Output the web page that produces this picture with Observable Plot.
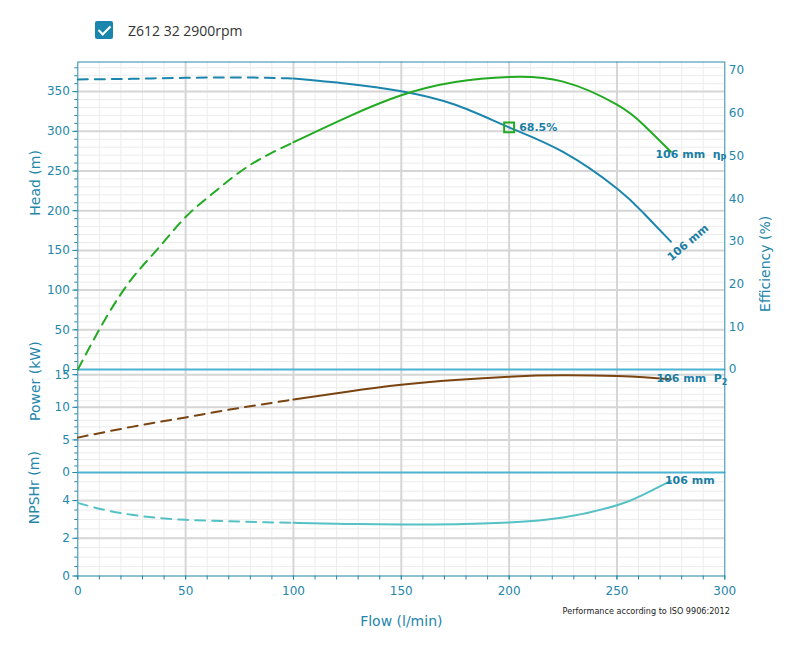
<!DOCTYPE html>
<html><head><meta charset="utf-8">
<script src="https://cdn.jsdelivr.net/npm/d3@7"></script>
<script src="https://cdn.jsdelivr.net/npm/@observablehq/plot@0.6"></script>
<style>
html,body{margin:0;padding:0;background:#fff;}
#wrap{position:relative;width:796px;height:647px;overflow:hidden;background:#fff;}
#wrap svg{position:absolute;left:0;top:0;}
#legend{position:absolute;left:95px;top:21px;height:18px;display:flex;align-items:center;font-family:"Open Sans",sans-serif;font-size:14px;color:#333;z-index:5;}
.cb{display:inline-block;width:18px;height:18px;border-radius:2px;background:#1a86ad;position:relative;margin-right:15px;}
.cb::after{content:"";position:absolute;left:6px;top:2px;width:5px;height:10px;border:solid #fff;border-width:0 2px 2px 0;transform:rotate(45deg);}
</style></head>
<body><div id="wrap"><div id="legend"><span class="cb"></span><span>Z612 32 2900rpm</span></div></div>
<script>
// ---- data ----
const seriesName = "Z612 32 2900rpm";
const impeller = "106 mm";
const flow       = [0, 12.5, 25, 37.5, 50, 62.5, 75, 87.5, 100, 125, 150, 175, 200, 225, 250, 262.5, 275];
const head       = [365.3, 365.7, 366.1, 366.8, 367.4, 367.7, 367.8, 367.4, 366.5, 360, 350.5, 333.5, 305, 274, 228, 196.5, 161];
const efficiency = [0, 11.6, 21.2, 28.5, 35.7, 41.2, 46.2, 50.1, 53.2, 59.1, 64.2, 67.3, 68.5, 67.4, 62, 57.2, 51];
const power      = [5.35, 6.2, 7.0, 7.75, 8.45, 9.2, 9.9, 10.55, 11.2, 12.4, 13.45, 14.2, 14.7, 14.9, 14.8, 14.6, 14.3];
const npsh       = [3.88, 3.5, 3.25, 3.08, 2.98, 2.93, 2.89, 2.85, 2.82, 2.76, 2.73, 2.75, 2.84, 3.1, 3.75, 4.33, 5.05];
const bepFlow = [200], bepHead = [305], bepEff = [68.5];
const flowTicks = [0, 50, 100, 150, 200, 250, 300];
const headTicks = [0, 50, 100, 150, 200, 250, 300, 350];
const effTicks = [0, 10, 20, 30, 40, 50, 60, 70];
const powerTicks = [0, 5, 10, 15];
const npshTicks = [0, 2, 4];
const caption = "Performance according to ISO 9906:2012";

// ---- style ----
const W = 796, H = 647, ML = 77.3, MR = 71.7;
const axisColor = "#2386ab", frameColor = "#2a8bb0", sepColor = "#4db3d2", labelColor = "#1b7ea5";
const headColor = "#1b86ad", effColor = "#22aa22", powerColor = "#7a4410", npshColor = "#56c1c4";
const gridMajor = "#d6d6d6", gridMinor = "#ececec";
const dash = "10,7";
const font = "DejaVu Sans, Verdana, sans-serif";

const idx = flow.map((_, i) => i);
const dashedIdx = idx.filter(i => flow[i] <= 100);
const solidIdx = idx.filter(i => flow[i] >= 100);
const last = [flow.length - 1];

function splitLine(vals, color) {
  return [
    Plot.line(dashedIdx, {x: i => flow[i], y: i => vals[i], stroke: color, strokeWidth: 2, strokeDasharray: dash, curve: "natural"}),
    Plot.line(solidIdx, {x: i => flow[i], y: i => vals[i], stroke: color, strokeWidth: 2, curve: "natural"})
  ];
}
function grids(yMajor, yMinor) {
  return [
    Plot.gridX(d3.range(10, 300, 10), {stroke: gridMinor, strokeOpacity: 1, strokeWidth: 1}),
    Plot.gridY(yMinor, {stroke: gridMinor, strokeOpacity: 1, strokeWidth: 1}),
    Plot.gridX(flowTicks.filter(v => v > 0 && v < 300), {stroke: gridMajor, strokeOpacity: 1, strokeWidth: 2}),
    Plot.gridY(yMajor.filter(v => v > 0), {stroke: gridMajor, strokeOpacity: 1, strokeWidth: 2})
  ];
}
function leftAxis(major, minor) {
  return [
    Plot.axisY(minor, {anchor: "left", tickSize: 3, stroke: axisColor, fill: "none", label: null}),
    Plot.axisY(major, {anchor: "left", tickSize: 5, tickPadding: 3, color: axisColor, label: null, fontSize: 12})
  ];
}
function title(t, opts) {
  return Plot.text([t], {text: d => d, fontSize: 14, fill: axisColor, ...opts});
}
const boldLabel = {fontSize: 11, fontWeight: "bold", fill: labelColor, textAnchor: "start"};
const baseStyle = {background: "transparent", fontFamily: font, fontSize: "12px", color: axisColor, overflow: "visible"};

function addSub(svg, full, base, sub) {
  svg.querySelectorAll("text").forEach(t => {
    if (t.textContent === full) {
      t.textContent = base;
      const ts = document.createElementNS("http://www.w3.org/2000/svg", "tspan");
      ts.setAttribute("font-size", "8");
      ts.setAttribute("dy", "3");
      ts.textContent = sub;
      t.appendChild(ts);
    }
  });
}

// ---- NPSH panel ----
const npshMinor = d3.range(0, 5.5, 0.5);
const npshPlot = Plot.plot({
  width: W, height: H, marginLeft: ML, marginRight: MR, marginTop: 472, marginBottom: H - 575.5,
  style: baseStyle,
  x: {domain: [0, 300]},
  y: {domain: [0, 5.49]},
  marks: [
    ...grids(npshTicks, npshMinor),
    Plot.frame({stroke: frameColor}),
    ...leftAxis(npshTicks, npshMinor),
    Plot.axisX(d3.range(0, 301, 10), {anchor: "bottom", tickSize: 4, stroke: axisColor, fill: "none", label: null}),
    Plot.axisX(flowTicks, {anchor: "bottom", tickSize: 4, tickPadding: 6, color: axisColor, label: null, fontSize: 12}),
    ...splitLine(npsh, npshColor),
    Plot.text(last, {x: i => flow[i], y: i => npsh[i], text: () => impeller, dx: -6, dy: 0, ...boldLabel}),
    title("NPSHr (m)", {frameAnchor: "left", dx: -43, rotate: -90}),
    title("Flow (l/min)", {frameAnchor: "bottom", dy: 50}),
    Plot.text([caption], {text: d => d, frameAnchor: "bottom-right", textAnchor: "end", dx: 5, dy: 38, fontSize: 8.1, fill: "#222"})
  ]
});

// ---- Power panel ----
const powerMinor = d3.range(0, 16, 1);
const powerPlot = Plot.plot({
  width: W, height: H, marginLeft: ML, marginRight: MR, marginTop: 369, marginBottom: H - 472,
  style: baseStyle,
  x: {domain: [0, 300], axis: null},
  y: {domain: [0, 15.8]},
  marks: [
    ...grids(powerTicks, powerMinor),
    Plot.frame({stroke: frameColor}),
    Plot.ruleY([0], {stroke: sepColor, strokeWidth: 2}),
    ...leftAxis(powerTicks, powerMinor),
    ...splitLine(power, powerColor),
    Plot.text(last, {x: i => flow[i], y: i => power[i], text: () => `${impeller}\u00a0\u00a0P2`, dx: -14.5, dy: -1, ...boldLabel}),
    title("Power (kW)", {frameAnchor: "left", dx: -42, rotate: -90})
  ]
});
addSub(powerPlot, `${impeller}\u00a0\u00a0P2`, `${impeller}\u00a0\u00a0P`, "2");

// ---- Head panel ----
const headMinor = d3.range(0, 381, 10);
const headPlot = Plot.plot({
  width: W, height: H, marginLeft: ML, marginRight: MR, marginTop: 61.5, marginBottom: H - 369,
  style: baseStyle,
  x: {domain: [0, 300], axis: null},
  y: {domain: [0, 387.3]},
  marks: [
    ...grids(headTicks, headMinor),
    Plot.frame({stroke: frameColor}),
    Plot.ruleY([0], {stroke: sepColor, strokeWidth: 2}),
    ...leftAxis(headTicks, headMinor),
    ...splitLine(head, headColor),
    Plot.text(last, {x: i => flow[i], y: i => head[i], text: () => impeller, rotate: -40, dx: -2, dy: 17, ...boldLabel}),
    Plot.dot(bepFlow.map((_, i) => i), {x: i => bepFlow[i], y: i => bepHead[i], symbol: "square", r: 5.6, stroke: effColor, strokeWidth: 2, fill: "none"}),
    Plot.text(bepFlow.map((_, i) => i), {x: i => bepFlow[i], y: i => bepHead[i], text: i => `${bepEff[i].toFixed(1)}%`, dx: 10, dy: 0, ...boldLabel}),
    title("Head (m)", {frameAnchor: "left", dx: -42, rotate: -90})
  ]
});

// ---- Efficiency overlay (right axis) ----
const effPlot = Plot.plot({
  width: W, height: H, marginLeft: ML, marginRight: MR, marginTop: 61.5, marginBottom: H - 369,
  style: baseStyle,
  x: {domain: [0, 300], axis: null},
  y: {domain: [0, 72]},
  marks: [
    Plot.axisY(effTicks, {anchor: "right", tickSize: 0, tickPadding: 4, color: axisColor, label: null, fontSize: 12}),
    ...splitLine(efficiency, effColor),
    Plot.text(last, {x: i => flow[i], y: i => efficiency[i], text: () => `${impeller}\u00a0\u00a0ηP`, dx: -15.5, dy: 2.5, ...boldLabel}),
    title("Efficiency (%)", {frameAnchor: "right", dx: 41, rotate: -90})
  ]
});
addSub(effPlot, `${impeller}\u00a0\u00a0ηP`, `${impeller}\u00a0\u00a0η`, "P");

const wrap = document.getElementById("wrap");
[npshPlot, powerPlot, headPlot, effPlot].forEach(s => wrap.appendChild(s));
</script>
</body></html>
